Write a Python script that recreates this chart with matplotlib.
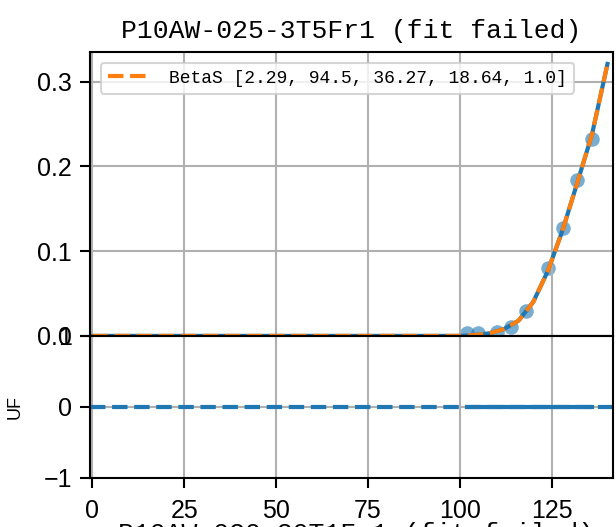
import numpy as np
import matplotlib
matplotlib.use("Agg")
import matplotlib.pyplot as plt

# measured points
x_obs = [102, 105, 110, 114, 118, 124, 128, 132, 136]
y_obs = [0.003, 0.003, 0.005, 0.011, 0.029, 0.080, 0.127, 0.184, 0.233]
resid = [0, 0, 0, 0, 0, 0, 0, 0, 0]

# BetaS fit curve
fit_x = [0, 100, 104, 108, 112, 116, 120, 124, 128, 132, 136, 140.2]
fit_y = [0, 0, 0.001, 0.003, 0.008, 0.018, 0.040, 0.077, 0.125, 0.181, 0.238, 0.321]
fit_params = [2.29, 94.5, 36.27, 18.64, 1.0]

title = "P10AW-025-3T5Fr1 (fit failed)"
next_title = "P10AW-020-20T1Fr1 (fit failed)"

mono = "Liberation Mono"
sans = "Liberation Sans"
plt.rcParams["font.family"] = sans

fig = plt.figure(figsize=(6.16, 5.27), dpi=100)
gs = fig.add_gridspec(2, 1, height_ratios=[2, 1], hspace=0,
                      left=0.1461, right=0.9951, top=0.9019, bottom=0.093)
ax = fig.add_subplot(gs[0])
ax_r = fig.add_subplot(gs[1], sharex=ax)

ax.plot(fit_x, fit_y, color="tab:blue", lw=3)
ax.scatter(x_obs, y_obs, s=110, color="tab:blue", alpha=0.6, lw=0)
ax.plot(fit_x, fit_y, "--", color="tab:orange", lw=3,
        label="BetaS " + str(fit_params))
ax.set_ylim(0, 0.3355)
ax.set_yticks([0, 0.1, 0.2, 0.3])
ax.set_yticklabels(["0.0", "0.1", "0.2", "0.3"])
ax.set_xlim(-0.65, 141.7)
ax.grid(color="#b0b0b0", lw=1.5)
ax.tick_params(labelbottom=False, bottom=False)
ax.set_title(title, family=mono, fontsize=19, pad=10)
leg = ax.legend(loc="upper left", prop={"family": mono, "size": 13},
                handlelength=2.4, handletextpad=1.0, borderaxespad=0.6)
leg.get_frame().set_linewidth(1.5)

ax_r.axhline(0, color="tab:blue", ls="--", lw=3)
ax_r.plot(x_obs, resid, color="tab:blue", lw=3)
ax_r.set_ylim(-1, 1)
ax_r.set_yticks([-1, 0, 1])
ax_r.grid(color="#b0b0b0", lw=1.5)
ax_r.set_ylabel("UF", fontsize=13, labelpad=14)
ax_r.set_xticks([0, 25, 50, 75, 100, 125])

for a in (ax, ax_r):
    a.tick_params(labelsize=18, length=7, width=1.5, pad=6)
    for s in a.spines.values():
        s.set_linewidth(1.5)
ax_r.tick_params(axis="x", pad=8)

# title of the panel below, only its top shows
fig.text(0.578, 0.010, next_title, family=mono, fontsize=19, ha="center", va="top")

fig.savefig("out.png", dpi=100)
